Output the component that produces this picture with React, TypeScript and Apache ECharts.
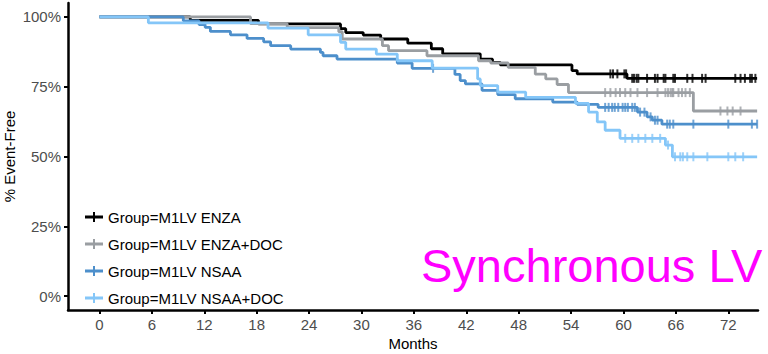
import React, { useEffect, useRef } from 'react';
import * as echarts from 'echarts';

const groups = ['Group=M1LV ENZA', 'Group=M1LV ENZA+DOC', 'Group=M1LV NSAA', 'Group=M1LV NSAA+DOC'];
const colors = ['#000000', '#9A9EA2', '#4D8FCB', '#84C6F8'];

// ENZA
const enzaTime = [0, 10.4, 18.2, 27.6, 28.2, 30.2, 32.2, 35.3, 38.0, 39.3, 43.6, 45.0, 45.9, 54.1, 54.7, 60.4, 75.3];
const enzaSurv = [100, 98.8, 97.5, 95.8, 94.4, 93.5, 92.1, 90.6, 88.6, 86.8, 84.9, 83.7, 82.8, 80.8, 79.6, 78.0, 78.0];
const enzaCensor = [58.5, 58.8, 59.3, 60.1, 60.3, 61.0, 61.2, 61.5, 61.7, 62.7, 63.6, 63.9, 64.6, 64.8, 65.7, 65.9, 67.3, 67.9, 69.0, 69.4, 72.8, 73.4, 73.9, 74.5, 74.7, 75.1];

// ENZA+DOC
const enzaDocTime = [0, 17.3, 21.5, 27.4, 27.8, 32.4, 33.1, 37.5, 43.4, 44.8, 46.8, 49.9, 51.1, 52.4, 53.7, 68.0, 75.3];
const enzaDocSurv = [100, 97.6, 96.2, 94.7, 92.1, 89.7, 87.9, 86.1, 84.3, 83.5, 81.9, 79.5, 77.8, 75.8, 72.9, 66.3, 66.3];
const enzaDocCensor = [57.9, 58.5, 59.1, 59.6, 60.2, 60.8, 61.6, 62.7, 63.9, 64.8, 65.1, 65.4, 65.6, 65.7, 66.3, 66.7, 67.1, 67.6, 71.1, 71.9, 72.5, 73.4];

// NSAA
const nsaaTime = [0, 9.6, 11.4, 12.1, 12.7, 15.0, 16.9, 18.8, 19.6, 21.9, 25.3, 25.6, 27.2, 34.1, 35.8, 40.7, 41.3, 41.9, 43.8, 45.6, 47.6, 51.9, 54.7, 57.1, 61.6, 62.7, 63.3, 64.4, 75.3];
const nsaaSurv = [100, 98.6, 97.3, 96.3, 94.8, 93.6, 92.3, 91.1, 89.7, 88.5, 87.3, 86.1, 84.9, 83.5, 81.6, 79.4, 77.2, 76.0, 73.7, 72.2, 70.7, 69.5, 68.7, 67.6, 65.9, 64.2, 63.0, 61.6, 61.6];
const nsaaCensor = [38.2, 57.9, 58.3, 58.7, 59.0, 59.4, 59.9, 60.2, 60.5, 61.0, 61.3, 61.9, 62.4, 63.1, 63.6, 63.9, 65.0, 65.3, 65.7, 68.0, 72.0, 74.7, 75.3];

// NSAA+DOC
const nsaaDocTime = [0, 5.6, 19.3, 23.9, 27.6, 28.2, 31.7, 34.1, 38.1, 43.3, 43.6, 45.6, 48.8, 54.5, 56.0, 57.0, 57.9, 59.6, 64.8, 65.6, 75.3];
const nsaaDocSurv = [100, 97.9, 96.0, 93.6, 90.9, 88.5, 86.7, 84.3, 81.7, 77.8, 75.4, 73.1, 71.2, 69.0, 65.9, 62.4, 59.4, 56.5, 54.1, 49.9, 49.9];
const nsaaDocCensor = [60.2, 61.0, 61.7, 62.5, 63.3, 64.2, 65.1, 65.9, 66.5, 66.8, 67.3, 68.0, 69.6, 72.0, 72.8, 73.7];

const xTicks = [0, 6, 12, 18, 24, 30, 36, 42, 48, 54, 60, 66, 72];
const yTicks = [0, 25, 50, 75, 100];

const FONT = '"Liberation Sans", Arial, Helvetica, sans-serif';

const curves = [
  { time: enzaTime, surv: enzaSurv, censor: enzaCensor },
  { time: enzaDocTime, surv: enzaDocSurv, censor: enzaDocCensor },
  { time: nsaaTime, surv: nsaaSurv, censor: nsaaCensor },
  { time: nsaaDocTime, surv: nsaaDocSurv, censor: nsaaDocCensor },
];

function survAt(time: number[], surv: number[], t: number): number {
  let v = surv[0];
  for (let i = 0; i < time.length; i++) {
    if (time[i] <= t) v = surv[i];
  }
  return v;
}

const plusIcon = 'path://M0,3.6 L18,3.6 L18,6.4 L0,6.4 Z M8,0 L10,0 L10,10 L8,10 Z';

export default function App() {
  const ref = useRef<HTMLDivElement>(null);
  useEffect(() => {
    if (!ref.current) return;
    const chart = echarts.init(ref.current, undefined, { renderer: 'svg' });
    const series: any[] = [];
    curves.forEach((c, i) => {
      series.push({
        name: groups[i],
        type: 'line',
        step: 'end',
        color: colors[i],
        showSymbol: false,
        symbol: 'none',
        lineStyle: { width: 2.8, color: colors[i] },
        data: c.time.map((t, k) => [t, c.surv[k]]),
        z: 2 + i * 2,
      });
      series.push({
        name: groups[i],
        type: 'scatter',
        color: colors[i],
        symbol: 'rect',
        symbolSize: [2, 9],
        itemStyle: { color: colors[i] },
        data: c.censor.map((t) => [t, survAt(c.time, c.surv, t)]),
        z: 3 + i * 2,
      });
    });
    chart.setOption({
      animation: false,
      backgroundColor: '#ffffff',
      textStyle: { fontFamily: FONT },
      grid: { left: 68, right: 10, top: 3, bottom: 44, containLabel: false, outerBoundsMode: 'none' },
      legend: {
        data: groups.map((g) => ({ name: g, icon: plusIcon })),
        orient: 'vertical',
        left: 80,
        top: 204,
        itemWidth: 18,
        itemHeight: 10,
        itemGap: 11,
        textStyle: { color: '#000000', fontSize: 15, fontFamily: FONT, lineHeight: 16 },
        selectedMode: false,
      },
      xAxis: {
        type: 'value',
        min: -3.6,
        max: 75.4,
        name: 'Months',
        nameLocation: 'middle',
        nameGap: 33,
        nameMoveOverlap: false,
        nameTextStyle: { color: '#000000', fontSize: 15, fontFamily: FONT, verticalAlign: 'middle' },
        axisLine: { show: true, onZero: false, lineStyle: { color: '#000000', width: 2.5 } },
        axisTick: { show: true, customValues: xTicks, length: 4, lineStyle: { color: '#000000', width: 2 } },
        axisLabel: { customValues: xTicks, color: '#4D4D4D', fontSize: 15, margin: 7, fontFamily: FONT },
        splitLine: { show: false },
      },
      yAxis: {
        type: 'value',
        min: -5,
        max: 105,
        name: '% Event-Free',
        nameLocation: 'middle',
        nameGap: 59,
        nameMoveOverlap: false,
        nameTextStyle: { color: '#000000', fontSize: 15, fontFamily: FONT, verticalAlign: 'middle' },
        axisLine: { show: true, onZero: false, lineStyle: { color: '#000000', width: 2.5 } },
        axisTick: { show: true, customValues: yTicks, length: 4, lineStyle: { color: '#000000', width: 2 } },
        axisLabel: {
          customValues: yTicks,
          color: '#4D4D4D',
          fontSize: 15,
          margin: 7,
          fontFamily: FONT,
          formatter: (v: number) => `${v}%`,
        },
        splitLine: { show: false },
      },
      graphic: [
        {
          type: 'text',
          left: 421,
          top: 242,
          z: 100,
          style: {
            text: 'Synchronous LV',
            fill: '#FF00FF',
            fontSize: 47,
            fontFamily: FONT,
          },
        },
      ],
      series,
    });
    return () => chart.dispose();
  }, []);
  return (
    <div
      ref={ref}
      style={{ position: 'absolute', left: 0, top: 0, width: 768, height: 354 }}
    />
  );
}
